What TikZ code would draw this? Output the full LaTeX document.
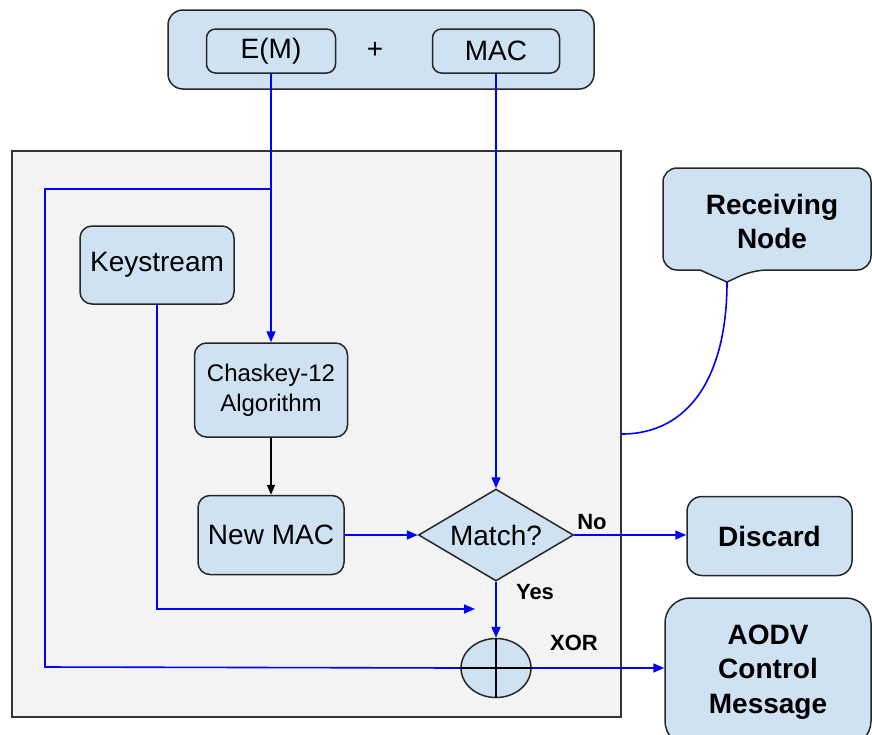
\documentclass[tikz,border=0pt]{standalone}
\usepackage{fontspec}
\setmainfont{Liberation Sans}
\usepackage{tikz}
\usetikzlibrary{arrows.meta,shapes.geometric,positioning}
\usepackage{xcolor}
\definecolor{boxblue}{RGB}{207,226,243}
\definecolor{panelgray}{RGB}{243,243,243}
\definecolor{flowblue}{RGB}{0,0,255}
\tikzstyle{flow} = [line width=1.6pt, color=flowblue, -{Triangle[length=11pt,width=9pt]}]
\tikzstyle{blackflow} = [line width=1.4pt, color=black, -{Triangle[length=10pt,width=8pt]}]
\tikzstyle{bluebox} = [rectangle, rounded corners=12pt, draw=black!85, fill=boxblue, line width=1.5pt, inner sep=0pt, align=center, font=\fontsize{28}{34}\selectfont]
\tikzstyle{boldbox} = [bluebox, font=\fontsize{28}{34.5}\selectfont\bfseries]
\tikzstyle{smalllabel} = [inner sep=0pt, font=\fontsize{22}{26}\selectfont\bfseries]

\begin{document}
\begin{tikzpicture}[x=1pt, y=-1pt]
\useasboundingbox (0,0) rectangle (872,734);

% Sender packet
\node[bluebox, rounded corners=15pt, minimum width=426pt, minimum height=79pt] (packet) at (381,49.5) {};
\node[bluebox, rounded corners=9pt, minimum width=129pt, minimum height=44pt] (em) at (271,51) {E(M)};
\node[inner sep=0pt, font=\fontsize{28}{34}\selectfont] (plus) at (375,50) {+};
\node[bluebox, rounded corners=9pt, minimum width=127pt, minimum height=44pt] (mac) at (496,51) {MAC};

% Receiving node panel
\node[rectangle, draw=black!80, fill=panelgray, line width=1.5pt, minimum width=609pt, minimum height=566pt] (panel) at (316.5,434) {};

\node[bluebox, minimum width=154pt, minimum height=78pt] (keystream) at (157,265) {Keystream};
\node[bluebox, minimum width=153pt, minimum height=94pt, font=\fontsize{24}{30}\selectfont] (chaskey) at (271,390) {Chaskey-12\\Algorithm};
\node[bluebox, minimum width=146pt, minimum height=79pt] (newmac) at (271,535) {New MAC};
\node[diamond, aspect=1.68, draw=black!85, fill=boxblue, line width=1.5pt, inner sep=0pt, minimum width=155pt, minimum height=92pt, font=\fontsize{28}{34}\selectfont] (match) at (496,535) {Match?};
\node[ellipse, draw=black!85, fill=boxblue, line width=1.5pt, minimum width=70pt, minimum height=59pt] (xor) at (496,668) {};
\draw[line width=1.4pt] (xor.north) -- (xor.south);
\draw[line width=1.4pt] (xor.west) -- (xor.east);

% Outside
\node[boldbox, rounded corners=15pt, minimum width=165pt, minimum height=79pt] (discard) at (769.5,536) {Discard};
\node[boldbox, rounded corners=25pt, minimum width=206pt, minimum height=148pt] (aodv) at (768,672) {AODV\\Control\\Message};

% Callout
\draw[draw=black!85, fill=boxblue, line width=1.5pt, rounded corners=14pt]
  (663,168) -- (871,168) -- (871,270) -- (753,270) [sharp corners] -- (727,282) -- (700,270) [rounded corners=14pt] -- (663,270) -- cycle;
\coordinate (recvtip) at (727,282);
\node[inner sep=0pt, align=center, font=\fontsize{28}{34}\selectfont\bfseries] (recv) at (772,221) {Receiving\\Node};

% Labels
\node[smalllabel] (nolabel) at (592,522) {No};
\node[smalllabel] (yeslabel) at (535,592) {Yes};
\node[smalllabel] (xorlabel) at (574,643) {XOR};

% Connectors
\coordinate (split) at (271,189);
\coordinate (leftturn) at (45,189);
\coordinate (bottomturn) at (45,667);
\coordinate (ksend) at (475,609);
\draw[flow] (em.south) -- (chaskey.north);
\draw[line width=1.6pt, flowblue] (split) -- (leftturn) -- (bottomturn) -- (xor.west);
\draw[flow] (mac.south) -- (match.north);
\draw[blackflow] (chaskey.south) -- (newmac.north);
\draw[flow] (newmac.east) -- (match.west);
\draw[flow] (match.east) -- (match.east -| discard.west);
\draw[flow] (match.south) -- (xor.north);
\draw[flow] (xor.east) -- (xor.east -| aodv.west);
\draw[flow] (keystream.south) |- (ksend);
\draw[line width=1.6pt, flowblue] (recvtip) .. controls (727,375) and (690,434) .. (panel.east);
\end{tikzpicture}
\end{document}
